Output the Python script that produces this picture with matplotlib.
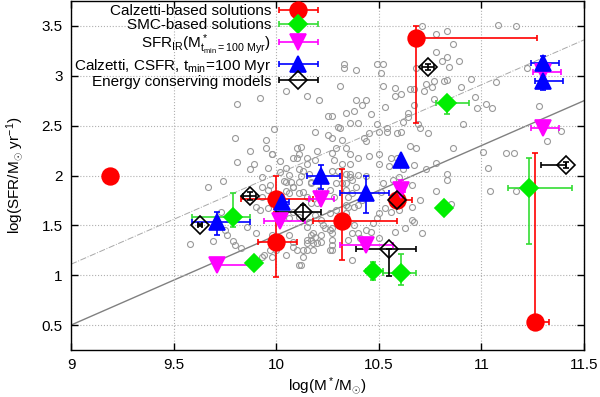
import numpy as np
import matplotlib
matplotlib.use('Agg')
import matplotlib.pyplot as plt
from matplotlib.legend_handler import HandlerErrorbar

plt.rcParams['font.family'] = ['Liberation Sans', 'DejaVu Sans']
plt.rcParams['mathtext.fontset'] = 'custom'
plt.rcParams['mathtext.rm'] = 'Liberation Sans'
plt.rcParams['mathtext.it'] = 'Liberation Sans:italic'
plt.rcParams['font.size'] = 11

# background sample (gray open circles), (log M*, log SFR)
bg_x = [10.71, 10.78, 10.83, 11.08, 11.17, 10.86, 10.78, 10.83, 10.81, 10.89, 10.84, 10.68,
        10.33, 10.33, 10.39, 10.49, 10.52, 10.51, 11.22, 10.31, 10.52, 10.58, 10.65, 10.67,
        10.73, 10.77, 10.82, 10.83, 10.72, 10.76, 10.95, 11.07, 10.90, 10.15, 10.21, 10.39,
        10.44, 10.42, 10.58, 10.61, 10.53, 10.64, 10.64, 10.38, 10.34, 10.46, 10.25, 10.27,
        10.67, 10.77, 10.97, 11.02, 11.05, 10.98, 11.28, 10.91, 10.30, 10.31, 10.36, 10.40,
        10.49, 10.54, 10.54, 10.59, 10.61, 10.69, 10.70, 10.74, 10.62, 10.45, 10.50, 10.19,
        10.25, 10.27, 10.32, 10.29, 10.34, 10.43, 10.44, 10.65, 10.68, 10.86, 11.01, 11.12,
        11.16, 11.39, 11.32, 10.12, 10.20, 10.27, 10.36, 10.40, 10.45, 10.50, 10.56, 10.59,
        10.67, 10.62, 10.78, 11.03, 11.04, 10.73, 10.83, 10.83, 10.78, 10.15, 10.19, 10.28,
        10.32, 10.36, 10.50, 10.55, 10.13, 10.16, 10.30, 10.34, 10.36, 10.40, 10.44, 10.52,
        10.60, 10.57, 10.17, 10.32, 10.34, 10.26, 10.37, 10.35, 10.51, 10.66, 10.13, 11.17,
        10.85, 10.05, 9.92, 9.81, 9.99, 9.80, 9.95, 9.95, 9.87, 9.98, 9.81, 9.89,
        9.87, 9.96, 10.02, 10.06, 10.10, 10.10, 9.93, 9.74, 9.67, 10.04, 10.07, 9.97,
        10.08, 9.96, 10.05, 9.93, 9.90, 9.96, 9.93, 9.73, 9.69, 9.58, 9.75, 9.76,
        9.79, 9.80, 9.83, 9.90, 9.93, 9.94, 9.98, 9.98, 9.97, 10.00, 10.05, 10.11,
        10.06, 10.08, 10.08, 10.10, 10.15, 10.19, 10.20, 10.15, 10.18, 10.26, 10.27, 10.23,
        10.18, 10.26, 10.35, 10.37, 10.16, 10.06, 10.08, 10.11, 10.19, 10.22, 10.26, 10.29,
        10.34, 10.38, 10.17, 10.20, 10.11, 10.15, 10.21, 10.28, 10.34, 10.39, 10.06, 10.08,
        10.05, 10.12, 10.11, 10.17, 10.36, 10.37, 10.27, 10.29, 10.11, 10.15, 10.08, 10.11,
        9.98, 10.02, 10.05, 9.86, 9.92, 10.15, 10.15, 10.13, 10.18, 10.22, 10.24, 10.27,
        10.27, 10.17, 10.17, 10.22, 10.27, 10.27, 10.13, 10.37, 10.46, 10.50, 10.58, 10.63,
        10.67, 10.71, 10.49, 10.53, 10.60, 10.66, 10.35, 10.40, 10.42, 10.41, 10.12, 10.34,
        10.38, 10.40, 10.44, 10.47, 10.50, 10.58, 10.56, 10.70, 10.66]
bg_y = [3.50, 3.42, 3.45, 3.51, 3.50, 3.32, 3.24, 3.19, 3.15, 3.15, 3.09, 3.08,
        3.12, 3.08, 3.06, 3.12, 3.12, 3.03, 3.08, 2.90, 2.90, 2.88, 2.87, 2.87,
        2.92, 2.95, 2.95, 2.96, 2.85, 2.89, 2.97, 2.94, 2.89, 2.80, 2.76, 2.76,
        2.76, 2.71, 2.80, 2.82, 2.69, 2.63, 2.59, 2.65, 2.63, 2.62, 2.60, 2.60,
        2.71, 2.77, 2.79, 2.72, 2.68, 2.68, 2.70, 2.52, 2.49, 2.48, 2.53, 2.53,
        2.52, 2.48, 2.44, 2.43, 2.44, 2.52, 2.48, 2.43, 2.54, 2.43, 2.44, 2.44,
        2.41, 2.38, 2.36, 2.28, 2.28, 2.38, 2.35, 2.30, 2.28, 2.28, 2.24, 2.23,
        2.23, 2.45, 2.35, 2.29, 2.25, 2.23, 2.22, 2.18, 2.20, 2.22, 2.18, 2.18,
        2.11, 2.07, 2.13, 2.08, 1.84, 2.07, 2.02, 1.95, 1.84, 2.18, 2.16, 2.16,
        2.12, 2.12, 2.12, 2.10, 2.05, 2.02, 2.05, 2.02, 1.98, 2.01, 2.00, 1.92,
        1.98, 1.95, 1.93, 1.92, 1.92, 1.85, 1.82, 1.78, 1.83, 1.90, 1.83, 1.84,
        1.71, 2.85, 2.78, 2.72, 2.47, 2.38, 2.36, 2.28, 2.25, 2.22, 2.14, 2.12,
        2.07, 2.08, 2.04, 2.01, 2.28, 2.18, 1.98, 1.94, 1.88, 1.94, 1.93, 1.90,
        1.88, 1.85, 1.84, 1.78, 1.68, 1.67, 1.88, 1.63, 1.34, 1.31, 1.45, 1.40,
        1.34, 1.30, 1.27, 1.42, 1.18, 1.20, 1.18, 1.40, 1.25, 1.25, 1.20, 1.10,
        1.40, 1.33, 1.28, 1.25, 1.35, 1.38, 1.32, 1.25, 1.25, 1.25, 1.30, 1.50,
        1.42, 1.45, 1.35, 1.42, 1.53, 1.57, 1.63, 1.58, 1.60, 1.55, 1.62, 1.65,
        1.70, 1.68, 1.72, 1.72, 1.82, 1.78, 1.85, 1.78, 1.85, 1.88, 1.82, 1.88,
        1.93, 2.00, 1.93, 1.92, 2.02, 1.95, 2.05, 1.92, 2.07, 2.12, 2.18, 2.22,
        2.22, 2.15, 2.08, 1.48, 1.65, 1.48, 1.32, 1.25, 1.32, 1.40, 1.47, 1.47,
        1.42, 1.40, 1.35, 1.33, 1.35, 1.25, 1.18, 1.15, 1.43, 1.37, 1.43, 1.47,
        1.53, 1.42, 1.57, 1.67, 1.65, 1.68, 1.68, 1.70, 1.75, 1.37, 1.10, 1.62,
        1.50, 1.42, 1.45, 1.52, 1.62, 1.72, 1.63, 1.75, 1.55]

# Calzetti-based solutions
cal_x = [9.19, 10.00, 10.00, 10.32, 10.68, 11.26, 10.59]
cal_y = [2.00, 1.76, 1.33, 1.54, 3.38, 0.53, 1.75]
cal_xlo = [0.0, 0.17, 0.09, 0.14, 0.0, 0.0, 0.03]
cal_xhi = [0.0, 0.18, 0.10, 0.27, 0.59, 0.07, 0.07]
cal_ylo = [0.03, 0.10, 0.35, 0.39, 0.85, 0.03, 0.03]
cal_yhi = [0.03, 0.24, 0.30, 0.53, 0.12, 1.70, 0.03]

# SMC-based solutions
smc_x = [9.79, 9.89, 10.83, 10.82, 11.23, 10.47, 10.61]
smc_y = [1.58, 1.12, 2.73, 1.67, 1.87, 1.04, 1.02]
smc_xlo = [0.20, 0.0, 0.05, 0.0, 0.10, 0.03, 0.09]
smc_xhi = [0.08, 0.0, 0.11, 0.0, 0.21, 0.05, 0.07]
smc_ylo = [0.10, 0.0, 0.11, 0.0, 0.56, 0.09, 0.12]
smc_yhi = [0.24, 0.0, 0.0, 0.0, 0.31, 0.09, 0.19]

# SFR_IR
ir_x = [9.71, 10.02, 10.22, 10.61, 10.44, 11.30, 11.30]
ir_y = [1.10, 1.54, 1.76, 1.85, 1.30, 2.48, 3.04]
ir_xlo = [0.0, 0.08, 0.06, 0.02, 0.13, 0.06, 0.05]
ir_xhi = [0.17, 0.12, 0.06, 0.02, 0.13, 0.08, 0.09]
ir_ylo = [0.0, 0.0, 0.0, 0.0, 0.0, 0.0, 0.0]
ir_yhi = [0.0, 0.0, 0.0, 0.10, 0.0, 0.0, 0.0]

# Calzetti, CSFR
cs_x = [9.71, 10.03, 10.22, 10.44, 10.61, 11.30, 11.30]
cs_y = [1.53, 1.73, 1.99, 1.82, 2.16, 3.13, 2.95]
cs_xlo = [0.12, 0.06, 0.07, 0.13, 0.0, 0.06, 0.04]
cs_xhi = [0.16, 0.03, 0.09, 0.11, 0.0, 0.08, 0.10]
cs_ylo = [0.13, 0.02, 0.13, 0.20, 0.0, 0.08, 0.09]
cs_yhi = [0.10, 0.02, 0.12, 0.17, 0.0, 0.07, 0.10]

# Energy conserving models
en_x = [9.63, 9.87, 10.13, 10.59, 10.55, 10.74, 11.41]
en_y = [1.50, 1.79, 1.63, 1.75, 1.26, 3.09, 2.11]
en_xlo = [0.01, 0.03, 0.13, 0.02, 0.16, 0.03, 0.12]
en_xhi = [0.01, 0.03, 0.09, 0.02, 0.13, 0.03, 0.0]
en_ylo = [0.01, 0.04, 0.07, 0.02, 0.27, 0.03, 0.03]
en_yhi = [0.01, 0.04, 0.07, 0.02, 0.0, 0.03, 0.03]

# main sequence relations
ms_slope = 0.9
ms_icpt = -7.6
ms_icpt2 = -6.99

fig = plt.figure(figsize=(6.0, 3.97), dpi=100)
ax = fig.add_axes([71/600, 47/397, 513/600, 349/397])

ax.plot(bg_x, bg_y, 'o', ms=4.3, mfc='none', mec='#999999', mew=0.8, zorder=2)

xx = np.array([9.0, 11.5])
ax.plot(xx, ms_slope*xx + ms_icpt, '-', color='#808080', lw=1.0, zorder=1)
ax.plot(xx, ms_slope*xx + ms_icpt2, '-.', color='#a8a8a8', lw=0.7, zorder=1)

ekw = dict(ls='none', elinewidth=1.2, capsize=2.5, capthick=1.2, zorder=3)
series = [
    (cal_x, cal_y, cal_xlo, cal_xhi, cal_ylo, cal_yhi, 'o', 12, '#ff0000', '#ff0000', '#ff0000'),
    (smc_x, smc_y, smc_xlo, smc_xhi, smc_ylo, smc_yhi, 'D', 9, '#00ee00', '#00ee00', '#33dd33'),
    (ir_x, ir_y, ir_xlo, ir_xhi, ir_ylo, ir_yhi, 'v', 11, '#ff00ff', '#ff00ff', '#ff00ff'),
    (cs_x, cs_y, cs_xlo, cs_xhi, cs_ylo, cs_yhi, '^', 11, '#0000ff', '#0000ff', '#0000ff'),
    (en_x, en_y, en_xlo, en_xhi, en_ylo, en_yhi, 'D', 9.5, 'none', 'black', 'black'),
]
labels = ['Calzetti-based solutions',
          'SMC-based solutions',
          r'SFR$_{\mathrm{IR}}$(M$^*_{\mathrm{t_{min}=100\ Myr}}$)',
          r'Calzetti, CSFR, t$_{\mathrm{min}}$=100 Myr',
          'Energy conserving models']

handles = []
for (x, y, xlo, xhi, ylo, yhi, mk, ms, fc, ec, lc), lab in zip(series, labels):
    ax.errorbar(x, y, xerr=[xlo, xhi], yerr=[ylo, yhi], marker=mk, ms=ms,
                mfc=fc, mec=ec, mew=1.2, ecolor=lc, **ekw)
    h = ax.errorbar([np.nan], [np.nan], xerr=[[0.1], [0.1]], marker=mk, ms=ms,
                    mfc=fc, mec=ec, mew=1.2, ecolor=lc, ls='none',
                    elinewidth=1.2, capsize=2.5, capthick=1.2, label=lab)
    handles.append(h)

leg = ax.legend(handles=handles, loc='upper right', bbox_to_anchor=(0.485, 0.995),
                frameon=False, markerfirst=False, handlelength=2.6,
                handletextpad=0.5, labelspacing=0.0, borderpad=0.1,
                borderaxespad=0.0, fontsize=11,
                handler_map={type(handles[0]): HandlerErrorbar(xerr_size=1.3)})

ax.set_xlim(9, 11.5)
ax.set_ylim(0.25, 3.75)
ax.set_xticks([9, 9.5, 10, 10.5, 11, 11.5])
ax.set_xticklabels(['9', '9.5', '10', '10.5', '11', '11.5'])
ax.set_yticks([0.5, 1, 1.5, 2, 2.5, 3, 3.5])
ax.set_yticklabels(['0.5', '1', '1.5', '2', '2.5', '3', '3.5'])
ax.tick_params(direction='in', top=True, right=True, length=5, width=1,
               labelsize=11, pad=6)
ax.grid(True, ls=':', color='#b0b0b0', lw=0.8)
for s in ax.spines.values():
    s.set_linewidth(1.0)

ax.set_xlabel(r'log(M$^*$/M$_{\odot}$)', labelpad=2)
ax.set_ylabel(r'log(SFR/M$_{\odot}$ yr$^{-1}$)', labelpad=12)

fig.savefig('out.png', dpi=100)
